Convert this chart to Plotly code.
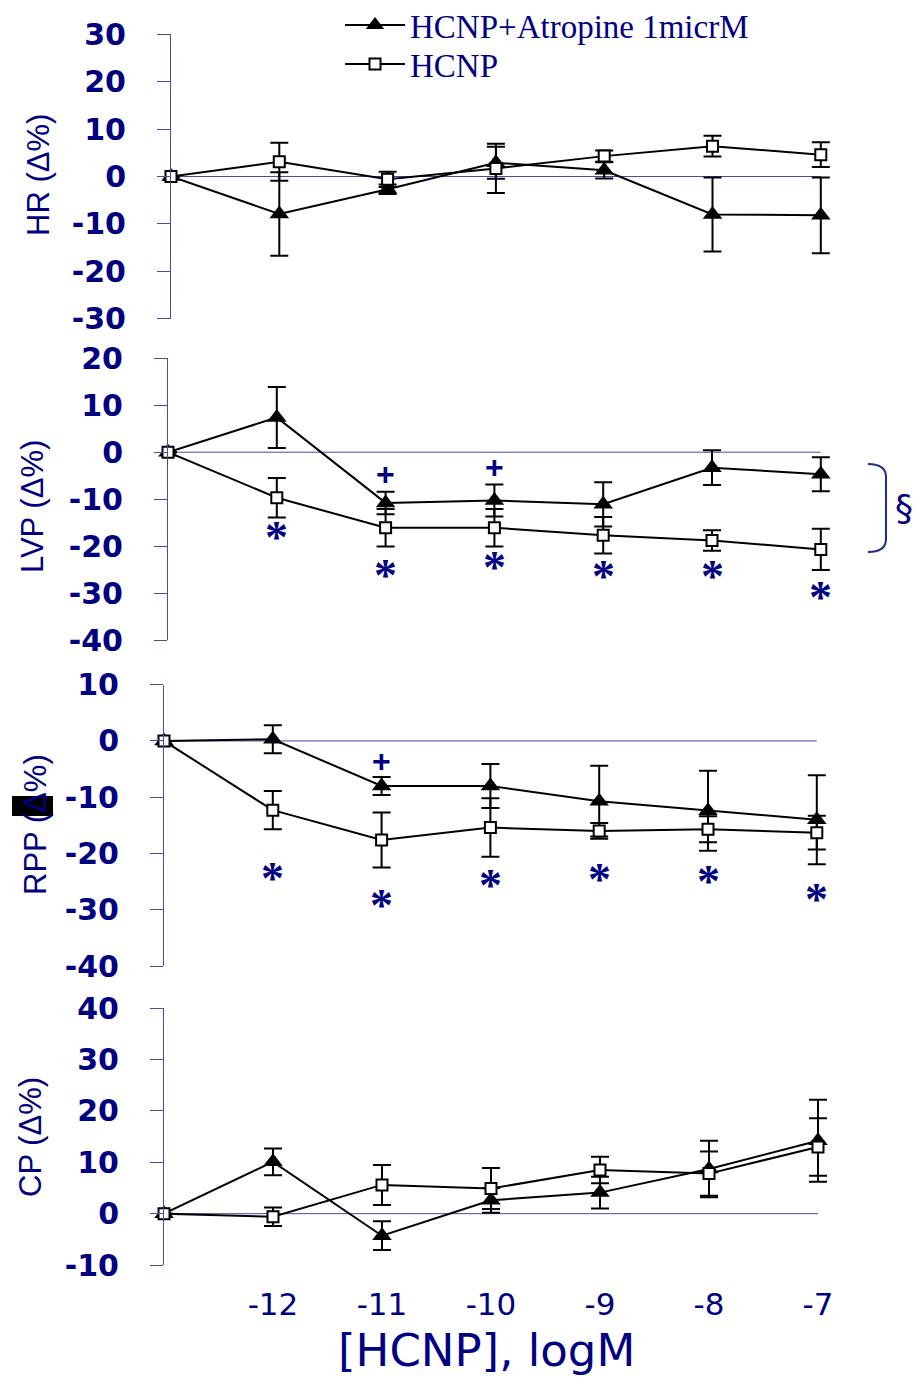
import plotly.graph_objects as go

# ---------------- data ----------------
conc = [-13, -12, -11, -10, -9, -8, -7]          # -13 = baseline (no HCNP)
x_tick_vals = [-12, -11, -10, -9, -8, -7]
x_tick_text = ["-12", "-11", "-10", "-9", "-8", "-7"]

hr_ticks = [-30, -20, -10, 0, 10, 20, 30]
lvp_ticks = [-40, -30, -20, -10, 0, 10, 20]
rpp_ticks = [-40, -30, -20, -10, 0, 10]
cp_ticks = [-10, 0, 10, 20, 30, 40]

hr_atr = [0, -7.9, -2.7, 2.9, 1.3, -8.0, -8.2]
hr_atr_err = [None, 8.8, 1.0, 3.4, 1.7, 7.8, 8.0]
hr_hcnp = [0, 3.1, -0.6, 1.7, 4.3, 6.4, 4.6]
hr_hcnp_err = [None, 4.0, 1.6, 5.2, 1.2, 2.2, 2.6]

lvp_atr = [0, 7.4, -10.8, -10.3, -11.1, -3.3, -4.7]
lvp_atr_err = [None, 6.5, 2.4, 3.4, 4.7, 3.7, 3.6]
lvp_hcnp = [0, -9.7, -16.1, -16.1, -17.7, -18.8, -20.7]
lvp_hcnp_err = [None, 4.2, 4.0, 4.0, 3.9, 2.2, 4.4]

rpp_atr = [0, 0.3, -8.0, -8.0, -10.7, -12.4, -14.0]
rpp_atr_err = [None, 2.5, 1.6, 3.9, 6.3, 7.1, 7.9]
rpp_hcnp = [0, -12.3, -17.6, -15.4, -16.0, -15.7, -16.3]
rpp_hcnp_err = [None, 3.4, 4.9, 5.2, 1.4, 2.3, 3.0]

cp_atr = [0, 10.1, -4.3, 2.6, 4.1, 8.7, 14.2]
cp_atr_err = [None, 2.6, 2.8, 2.4, 3.1, 5.5, 8.0]
cp_hcnp = [0, -0.6, 5.6, 4.9, 8.5, 7.8, 13.0]
cp_hcnp_err = [None, 1.8, 3.9, 4.0, 2.6, 4.3, 5.6]

# significance marks (data units)
lvp_star_x = [-12, -11, -10, -9, -8, -7]
lvp_star_y = [-16.8, -25.0, -23.2, -25.2, -25.2, -29.6]
lvp_plus_x = [-11, -10]
lvp_plus_y = [-4.7, -3.2]
rpp_star_x = [-12, -11, -10, -9, -8, -7]
rpp_star_y = [-23.3, -28.1, -24.6, -23.5, -24.0, -27.1]
rpp_plus_x = [-11]
rpp_plus_y = [-3.6]

name_atr = "HCNP+Atropine 1micrM"
name_hcnp = "HCNP"

# ---------------- layout helpers ----------------
W, H = 914, 1380
def px(x):
    return x / W
def py(y):
    return 1 - y / H

NAVY = "#000080"
AXC = "#4a4aa8"

panels = [
    dict(title="HR (Δ%)", x0=171, unit=108.3, ytop=34.3, ybot=318.7, yr=[-30, 30], ticks=hr_ticks,
         atr=hr_atr, atr_err=hr_atr_err, hc=hr_hcnp, hc_err=hr_hcnp_err, tx=38, ty=175),
    dict(title="LVP (Δ%)", x0=168, unit=108.8, ytop=358.3, ybot=640, yr=[-40, 20], ticks=lvp_ticks,
         atr=lvp_atr, atr_err=lvp_atr_err, hc=lvp_hcnp, hc_err=lvp_hcnp_err, tx=32, ty=507),
    dict(title="RPP (Δ%)", x0=164, unit=108.8, ytop=684.7, ybot=966, yr=[-40, 10], ticks=rpp_ticks,
         atr=rpp_atr, atr_err=rpp_atr_err, hc=rpp_hcnp, hc_err=rpp_hcnp_err, tx=35, ty=825),
    dict(title="CP (Δ%)", x0=164, unit=109.0, ytop=1008.3, ybot=1265, yr=[-10, 40], ticks=cp_ticks,
         atr=cp_atr, atr_err=cp_atr_err, hc=cp_hcnp, hc_err=cp_hcnp_err, tx=30, ty=1137),
]

fig = go.Figure()
layout = dict(
    width=W, height=H, margin=dict(l=0, r=0, t=0, b=0, autoexpand=False),
    paper_bgcolor="white", plot_bgcolor="rgba(0,0,0,0)",
    showlegend=True,
)
annotations = []
shapes = []

for i, p in enumerate(panels):
    k = "" if i == 0 else str(i + 1)
    xa, ya = "x" + k, "y" + k
    xdom = [px(p["x0"]), px(p["x0"] + 6.5 * p["unit"])]
    ydom = [py(p["ybot"]), py(p["ytop"])]
    xaxis = dict(domain=xdom, range=[-13, -6.5], anchor=ya, showgrid=False,
                 zeroline=False, showline=False, ticks="", fixedrange=True)
    if i < 3:
        xaxis["visible"] = False
    else:
        xaxis.update(tickmode="array", tickvals=x_tick_vals, ticktext=x_tick_text,
                     tickfont=dict(family="DejaVu Sans", size=31, color=NAVY),
                     ticklabelstandoff=18)
    yaxis = dict(domain=ydom, range=p["yr"], anchor=xa, showgrid=False, zeroline=False,
                 showline=True, linecolor=AXC, linewidth=1, ticks="outside", ticklen=13,
                 tickcolor=AXC, tickwidth=1, tickmode="array", tickvals=p["ticks"],
                 ticktext=[str(t) for t in p["ticks"]],
                 tickfont=dict(family="DejaVu Sans", size=30, color=NAVY, weight="bold"),
                 ticklabelstandoff=25, fixedrange=True)
    layout["xaxis" + k] = xaxis
    layout["yaxis" + k] = yaxis

    # zero reference line
    shapes.append(dict(type="line", xref=xa, yref=ya, x0=-13, x1=-7, y0=0, y1=0,
                       line=dict(color=AXC, width=1), layer="below"))

    fig.add_trace(go.Scatter(
        x=conc, y=p["atr"], xaxis=xa, yaxis=ya, mode="lines+markers", name=name_atr,
        showlegend=(i == 0), legend="legend", cliponaxis=False,
        line=dict(color="black", width=2),
        marker=dict(symbol="triangle-up", size=17, color="black"),
        error_y=dict(type="data", array=p["atr_err"], color="black", thickness=2, width=9),
    ))
    fig.add_trace(go.Scatter(
        x=conc, y=p["hc"], xaxis=xa, yaxis=ya, mode="lines+markers", name=name_hcnp,
        showlegend=(i == 0), legend="legend2", cliponaxis=False,
        line=dict(color="black", width=2),
        marker=dict(symbol="square", size=11, color="white", line=dict(color="black", width=2)),
        error_y=dict(type="data", array=p["hc_err"], color="black", thickness=2, width=9),
    ))

    annotations.append(dict(text=p["title"], x=px(p["tx"]), y=py(p["ty"]), xref="paper",
                            yref="paper", showarrow=False, textangle=-90,
                            font=dict(family="Liberation Sans", size=31, color=NAVY),
                            xanchor="center", yanchor="middle"))

# significance marks
def add_marks(xs, ys, text, xa, ya, font, yshift):
    for xv, yv in zip(xs, ys):
        annotations.append(dict(text=text, x=xv, y=yv, xref=xa, yref=ya, showarrow=False,
                                font=font, xanchor="center", yanchor="middle", yshift=yshift))

star_font = dict(family="Liberation Serif", size=46, color=NAVY, weight="bold")
plus_font = dict(family="Liberation Sans", size=32, color=NAVY, weight="bold")
add_marks(lvp_star_x, lvp_star_y, "*", "x2", "y2", star_font, -6)
add_marks(lvp_plus_x, lvp_plus_y, "+", "x2", "y2", plus_font, 0)
add_marks(rpp_star_x, rpp_star_y, "*", "x3", "y3", star_font, -6)
add_marks(rpp_plus_x, rpp_plus_y, "+", "x3", "y3", plus_font, 0)

# bracket with section sign
def ppath(pts):
    s = ""
    for cmd, coords in pts:
        s += cmd + " " + " ".join(f"{px(a):.5f},{py(b):.5f}" for a, b in coords) + " "
    return s.strip()

shapes.append(dict(type="path", xref="paper", yref="paper",
                   path=ppath([("M", [(868, 464)]), ("Q", [(886, 464), (886, 477)]),
                               ("L", [(886, 539)]), ("Q", [(886, 552), (868, 552)])]),
                   line=dict(color="#1a2a9a", width=2)))
annotations.append(dict(text="§", x=px(904), y=py(508), xref="paper", yref="paper",
                        showarrow=False, font=dict(family="DejaVu Sans", size=36, color=NAVY),
                        xanchor="center", yanchor="middle"))

# black highlight box on RPP label
shapes.append(dict(type="rect", xref="paper", yref="paper", x0=px(12), x1=px(53),
                   y0=py(816), y1=py(796), fillcolor="black", line=dict(width=0), layer="below"))

# x-axis title
annotations.append(dict(text="[HCNP], logM", x=px(487), y=py(1350), xref="paper", yref="paper",
                        showarrow=False, font=dict(family="DejaVu Sans", size=45, color=NAVY),
                        xanchor="center", yanchor="middle"))

legend_font = dict(family="Liberation Serif", size=33, color=NAVY)
layout["legend"] = dict(x=px(340), y=py(25), xanchor="left", yanchor="middle",
                        font=legend_font, bgcolor="rgba(0,0,0,0)", itemwidth=60,
                        borderwidth=0)
layout["legend2"] = dict(x=px(340), y=py(64), xanchor="left", yanchor="middle",
                         font=legend_font, bgcolor="rgba(0,0,0,0)", itemwidth=60,
                         borderwidth=0)
layout["annotations"] = annotations
layout["shapes"] = shapes
fig.update_layout(**layout)

fig.write_html("out.html")
